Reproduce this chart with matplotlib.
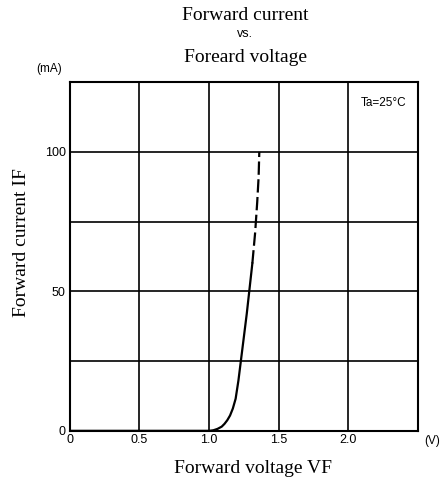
import numpy as np
import matplotlib
matplotlib.use('Agg')
import matplotlib.pyplot as plt

# values
v_solid = [0.0, 0.5, 1.0, 1.03, 1.06, 1.09, 1.11, 1.13, 1.15, 1.17, 1.19, 1.21, 1.23, 1.25, 1.27, 1.29, 1.31]
i_solid = [0.0, 0.0, 0.0, 0.2, 0.7, 1.5, 2.5, 3.8, 5.5, 8.0, 11.5, 18.0, 26.0, 34.0, 42.0, 51.0, 60.0]
v_dash = [1.31, 1.33, 1.345, 1.355, 1.36]
i_dash = [60.0, 71.0, 82.0, 91.0, 100.0]

x_ticks = [0, 0.5, 1.0, 1.5, 2.0]
x_labels = ['0', '0.5', '1.0', '1.5', '2.0']
y_ticks = [0, 50, 100]
y_labels = ['0', '50', '100']

serif = ['Liberation Serif', 'DejaVu Serif']
sans = ['Liberation Sans', 'DejaVu Sans']

fig = plt.figure(figsize=(4.42, 4.83), dpi=100)
ax = fig.add_axes([0.158, 0.108, 0.788, 0.722])

ax.plot(v_solid, i_solid, color='black', lw=1.6)
ax.plot(v_dash, i_dash, color='black', lw=1.6, dashes=(6, 2))

ax.set_xlim(0, 2.5)
ax.set_ylim(0, 125)
for gx in np.arange(0.5, 2.5, 0.5):
    ax.axvline(gx, color='black', lw=1.2, zorder=0)
for gy in np.arange(25, 125, 25):
    ax.axhline(gy, color='black', lw=1.2, zorder=0)
for s in ax.spines.values():
    s.set_linewidth(1.5)

ax.set_xticks(x_ticks)
ax.set_xticklabels(x_labels, family=sans, fontsize=9)
ax.set_yticks(y_ticks)
ax.set_yticklabels(y_labels, family=sans, fontsize=9)
ax.tick_params(length=0, pad=2)
ax.tick_params(axis='y', pad=3)

ax.set_xlabel('Forward voltage VF', family=serif, fontsize=14)
ax.set_ylabel('Forward current IF', family=serif, fontsize=14)
ax.xaxis.set_label_coords(0.526, -0.109)
ax.yaxis.set_label_coords(-0.138, 0.54)
ax.xaxis.label.set_va('center')
ax.yaxis.label.set_va('center')

ax.text(0.965, 0.94, 'Ta=25\u00b0C', transform=ax.transAxes, ha='right', va='center',
        family=sans, fontsize=8.5)
fig.text(49 / 442, 1 - 69 / 483, '(mA)', ha='center', va='center', family=sans, fontsize=8.5)
fig.text(440 / 442, 1 - 441 / 483, '(V)', ha='right', va='center', family=sans, fontsize=8.5)

fig.text(245 / 442, 1 - 15 / 483, 'Forward current', ha='center', va='center', family=serif, fontsize=14)
fig.text(245 / 442, 1 - 34 / 483, 'vs.', ha='center', va='center', family=sans, fontsize=9)
fig.text(245 / 442, 1 - 57 / 483, 'Foreard voltage', ha='center', va='center', family=serif, fontsize=14)

fig.savefig('out.png', dpi=100)
